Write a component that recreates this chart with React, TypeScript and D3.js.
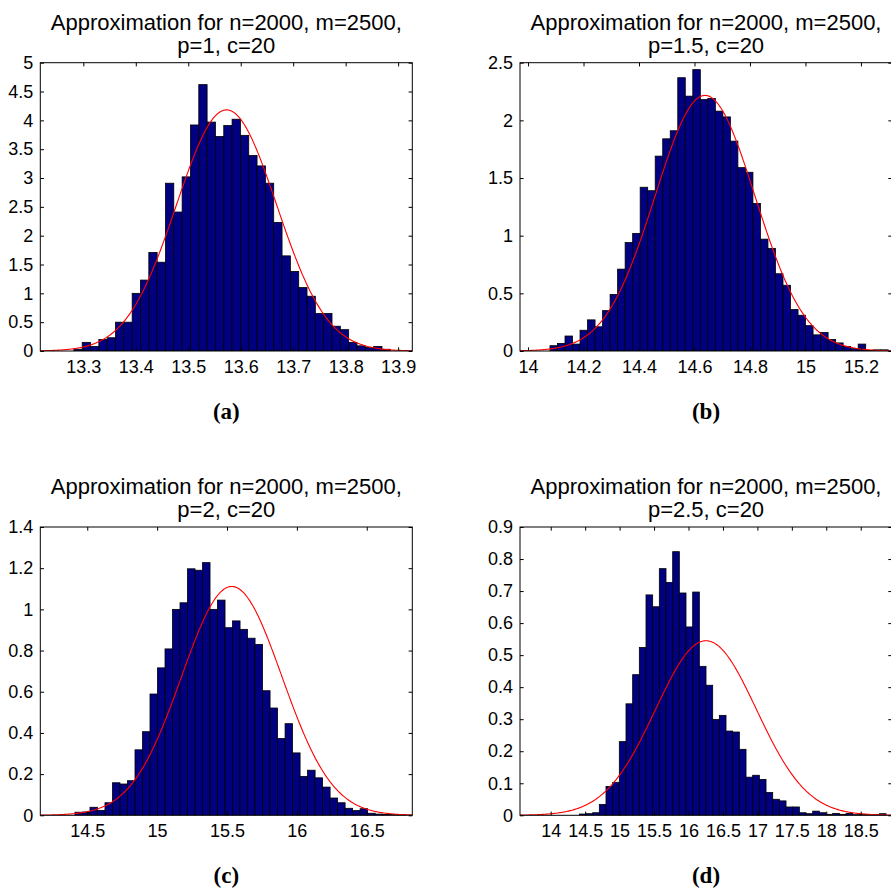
import React, { useEffect, useRef } from "react";
import * as d3 from "d3";

const W = 891,
  H = 889;

// bar heights (normalised histogram)
const densA = [0.03, 0.15, 0.08, 0.2, 0.23, 0.5, 0.5, 1.0, 1.23, 1.71, 1.54, 2.91, 2.41, 3.02, 3.92, 4.62, 3.97, 3.72, 3.91,
  4.02, 3.74, 3.39, 3.21, 2.91, 2.23, 1.65, 1.38, 1.1, 0.95, 0.65, 0.65, 0.43, 0.37, 0.15, 0.09, 0.06, 0.08, 0.03];
const densB = [0.046, 0.066, 0.13, 0.06, 0.18, 0.27, 0.21, 0.35, 0.49, 0.71, 0.94, 1.02, 1.42, 1.39, 1.69, 1.84, 1.91,
  2.37, 2.21, 2.44, 2.18, 2.19, 2.08, 2.03, 1.82, 1.59, 1.55, 1.28, 0.97, 0.89, 0.67, 0.57, 0.36, 0.31, 0.22, 0.14,
  0.16, 0.1, 0.07, 0.04, 0.02, 0.06, 0.005, 0.01, 0.01];
const densC = [0.015, 0.016, 0.039, 0.024, 0.061, 0.158, 0.152, 0.168, 0.318, 0.406, 0.589, 0.716, 0.808, 1.0, 1.032,
  1.197, 1.19, 1.227, 1.0, 1.045, 0.911, 0.944, 0.903, 0.86, 0.83, 0.605, 0.521, 0.373, 0.445, 0.303, 0.189, 0.219,
  0.182, 0.137, 0.084, 0.061, 0.034, 0.023, 0.032, 0.01, 0.006, 0.004, 0.003, 0.004];
const densD = [0.004, 0.005, 0.008, 0.034, 0.09, 0.103, 0.23, 0.348, 0.439, 0.524, 0.688, 0.651, 0.77, 0.727, 0.823,
  0.694, 0.588, 0.697, 0.465, 0.406, 0.299, 0.312, 0.263, 0.26, 0.206, 0.119, 0.125, 0.112, 0.071, 0.05, 0.045,
  0.026, 0.026, 0.008, 0.005, 0.013, 0.008, 0.003, 0.006, 0.003, 0.006, 0.002, 0.003, 0.002, 0.002, 0.005];

// first bin edge and bin width of each histogram
const binStart = [13.282, 14.079, 14.412, 14.415];
const binWidth = [0.01587, 0.0271, 0.0537, 0.0968];

// fitted normal curve (red)
const fitMean = [13.573, 14.638, 15.534, 16.254];
const fitSd = [0.0954, 0.18, 0.359, 0.732];

const pValues = ["1", "1.5", "2", "2.5"];
const panelTags = ["(a)", "(b)", "(c)", "(d)"];

const xTicksA = [13.3, 13.4, 13.5, 13.6, 13.7, 13.8, 13.9];
const xTicksB = [14, 14.2, 14.4, 14.6, 14.8, 15, 15.2];
const xTicksC = [14.5, 15, 15.5, 16, 16.5];
const xTicksD = [14, 14.5, 15, 15.5, 16, 16.5, 17, 17.5, 18, 18.5];

const yTicksA = [0, 0.5, 1, 1.5, 2, 2.5, 3, 3.5, 4, 4.5, 5];
const yTicksB = [0, 0.5, 1, 1.5, 2, 2.5];
const yTicksC = [0, 0.2, 0.4, 0.6, 0.8, 1, 1.2, 1.4];
const yTicksD = [0, 0.1, 0.2, 0.3, 0.4, 0.5, 0.6, 0.7, 0.8, 0.9];

const xLimits = [[13.218, 13.927], [13.971, 15.312], [14.164, 16.826], [13.554, 18.954]];

const dens = [densA, densB, densC, densD];
const xTicks = [xTicksA, xTicksB, xTicksC, xTicksD];
const yTicks = [yTicksA, yTicksB, yTicksC, yTicksD];

// layout
const lefts = [40.3, 520, 40.3, 520];
const tops = [62.7, 62.7, 527, 527];
const pw = 372,
  ph = 288.3;
const tick = 3.7;
const sans = "'Liberation Sans', Arial, Helvetica, sans-serif";
const fmt = (v: number) => String(+v.toFixed(2));

export default function App() {
  const ref = useRef<SVGSVGElement>(null);

  useEffect(() => {
    const svg = d3.select(ref.current);
    svg.selectAll("*").remove();

    dens.forEach((vals, k) => {
      const left = lefts[k],
        top = tops[k];
      const yMax = yTicks[k][yTicks[k].length - 1];
      const x = d3.scaleLinear().domain(xLimits[k]).range([left, left + pw]);
      const y = d3.scaleLinear().domain([0, yMax]).range([top + ph, top]);

      const clipId = "clip" + k;
      svg.append("clipPath").attr("id", clipId)
        .append("rect")
        .attr("x", left).attr("y", top - 1)
        .attr("width", pw).attr("height", ph + 1);

      const plot = svg.append("g").attr("clip-path", `url(#${clipId})`);

      plot.selectAll("rect.bar")
        .data(vals)
        .enter()
        .append("rect")
        .attr("class", "bar")
        .attr("x", (d, i) => x(binStart[k] + i * binWidth[k]))
        .attr("width", (d, i) => x(binStart[k] + (i + 1) * binWidth[k]) - x(binStart[k] + i * binWidth[k]))
        .attr("y", d => y(d))
        .attr("height", d => y(0) - y(d))
        .attr("fill", "#000080")
        .attr("stroke", "#000")
        .attr("stroke-width", 0.8);

      const mu = fitMean[k],
        sd = fitSd[k];
      const xs = d3.range(0, 401).map(i => xLimits[k][0] + (i / 400) * (xLimits[k][1] - xLimits[k][0]));
      plot.append("path")
        .datum(xs)
        .attr("fill", "none")
        .attr("stroke", "#ff0000")
        .attr("stroke-width", 1.1)
        .attr("d", d3.line<number>()
          .x(d => x(d))
          .y(d => y(Math.exp(-0.5 * ((d - mu) / sd) ** 2) / (sd * Math.sqrt(2 * Math.PI)))));

      // box
      svg.append("rect")
        .attr("x", left).attr("y", top)
        .attr("width", pw).attr("height", ph)
        .attr("fill", "none")
        .attr("stroke", "#000")
        .attr("stroke-width", 1);

      const styleAxis = (g: any) => {
        g.select(".domain").remove();
        g.attr("font-family", sans).attr("font-size", 18);
        g.selectAll("text").attr("fill", "#000");
      };

      svg.append("g")
        .attr("transform", `translate(0,${top + ph})`)
        .call(d3.axisBottom(x).tickValues(xTicks[k]).tickFormat(d => fmt(+d))
          .tickSizeInner(-tick).tickSizeOuter(0).tickPadding(9))
        .call(styleAxis);
      svg.append("g")
        .attr("transform", `translate(0,${top})`)
        .call(d3.axisTop(x).tickValues(xTicks[k]).tickFormat(() => "")
          .tickSizeInner(-tick).tickSizeOuter(0))
        .call(styleAxis);
      svg.append("g")
        .attr("transform", `translate(${left},0)`)
        .call(d3.axisLeft(y).tickValues(yTicks[k]).tickFormat(d => fmt(+d))
          .tickSizeInner(-tick).tickSizeOuter(0).tickPadding(7))
        .call(styleAxis);
      svg.append("g")
        .attr("transform", `translate(${left + pw},0)`)
        .call(d3.axisRight(y).tickValues(yTicks[k]).tickFormat(() => "")
          .tickSizeInner(-tick).tickSizeOuter(0))
        .call(styleAxis);

      const cx = left + pw / 2;
      const title = svg.append("text")
        .attr("font-family", sans)
        .attr("font-size", 22)
        .attr("text-anchor", "middle")
        .attr("fill", "#000");
      title.append("tspan").attr("x", cx).attr("y", top - 33)
        .text("Approximation for n=2000, m=2500,");
      title.append("tspan").attr("x", cx).attr("y", top - 10)
        .text(`p=${pValues[k]}, c=20`);

      svg.append("text")
        .attr("x", cx)
        .attr("y", top + ph + 68)
        .attr("text-anchor", "middle")
        .attr("font-family", "'Liberation Serif', 'Times New Roman', serif")
        .attr("font-weight", "bold")
        .attr("font-size", 23)
        .attr("fill", "#000")
        .text(panelTags[k]);
    });
  }, []);

  return (
    <svg
      ref={ref}
      width={W}
      height={H}
      style={{ position: "absolute", left: 0, top: 0, background: "#fff" }}
    />
  );
}
